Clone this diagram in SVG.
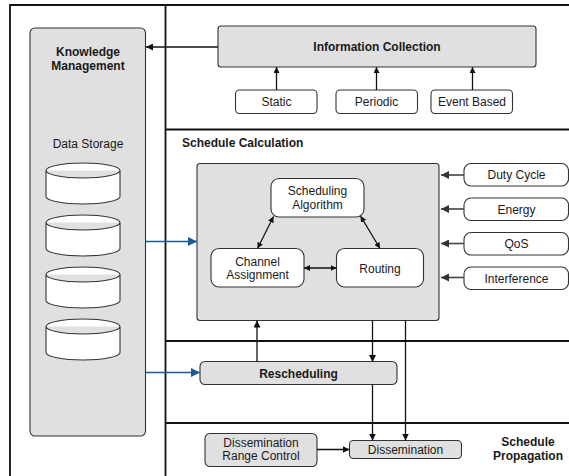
<svg xmlns="http://www.w3.org/2000/svg" width="569" height="476" viewBox="0 0 569 476">
  <style>
    text { font-family: "Liberation Sans", Arial, Helvetica, sans-serif; font-size: 12px; fill: #1a1a1a; }
    .b { font-weight: bold; }
    .m { text-anchor: middle; }
    .frame { stroke: #111; stroke-width: 1.8; fill: none; }
    .gray { fill: #e0e0e0; stroke: #333; stroke-width: 1.1; }
    .white { fill: #fff; stroke: #333; stroke-width: 1.1; }
    .line { stroke: #111; stroke-width: 1.3; fill: none; }
    .dim { stroke: #444; stroke-width: 1.6; fill: none; }
    .blue { stroke: #1d5a96; stroke-width: 1.5; fill: none; }
  </style>
  <defs>
    <marker id="ah" viewBox="0 0 10 10" refX="10" refY="5" markerWidth="7" markerHeight="7" markerUnits="userSpaceOnUse" orient="auto-start-reverse">
      <path d="M0,0 L10,5 L0,10 z" fill="#111"/>
    </marker>
    <marker id="ahs" viewBox="0 0 10 10" refX="10" refY="5" markerWidth="6" markerHeight="6" markerUnits="userSpaceOnUse" orient="auto-start-reverse">
      <path d="M0,0 L10,5 L0,10 z" fill="#111"/>
    </marker>
    <marker id="ahg" viewBox="0 0 10 10" refX="10" refY="5" markerWidth="8" markerHeight="8" markerUnits="userSpaceOnUse" orient="auto">
      <path d="M0,0 L10,5 L0,10 z" fill="#333"/>
    </marker>
    <marker id="ahb" viewBox="0 0 10 10" refX="10" refY="5" markerWidth="9" markerHeight="9" markerUnits="userSpaceOnUse" orient="auto">
      <path d="M0,0 L10,5 L0,10 z" fill="#1d5a96"/>
    </marker>
    <path id="cyl" d="M0,7.5 A37,7.5 0 0 1 74,7.5 V33.5 A37,7.5 0 0 1 0,33.5 Z M0,7.5 A37,7.5 0 0 0 74,7.5" fill="#fff" stroke="#333" stroke-width="1.1"/>
  </defs>

  <!-- section frame -->
  <g id="frame">
    <path class="frame" d="M10,476 V5 H569"/>
    <path class="frame" d="M165.5,5 V476"/>
    <path class="frame" d="M165.5,129.5 H569"/>
    <path class="frame" d="M165.5,341 H569"/>
    <path class="frame" d="M165.5,423 H569"/>
    <text x="182" y="147" class="b">Schedule Calculation</text>
    <text x="528" y="446" class="b m">Schedule</text>
    <text x="528" y="460" class="b m">Propagation</text>
  </g>

  <g id="knowledge-management">
    <rect class="gray" x="30" y="28" width="115.5" height="408" rx="5"/>
    <text x="88" y="56" class="b m">Knowledge</text>
    <text x="88" y="70" class="b m">Management</text>
    <text x="88" y="148" class="m">Data Storage</text>
  </g>
  <g id="data-storage">
    <use href="#cyl" x="46" y="163"/>
    <use href="#cyl" x="46" y="215"/>
    <use href="#cyl" x="46" y="267"/>
    <use href="#cyl" x="46" y="319"/>
  </g>

  <g id="information-collection">
    <rect class="gray" x="218" y="26" width="318" height="41" rx="3"/>
    <text x="377" y="51" class="b m">Information Collection</text>
  </g>
  <g id="static">
    <rect class="white" x="235.5" y="90" width="81.5" height="23.5" rx="4"/>
    <text x="276.5" y="106" class="m">Static</text>
  </g>
  <g id="periodic">
    <rect class="white" x="336" y="90" width="81.5" height="23.5" rx="4"/>
    <text x="376.5" y="106" class="m">Periodic</text>
  </g>
  <g id="event-based">
    <rect class="white" x="431" y="90" width="81.5" height="23.5" rx="4"/>
    <text x="472" y="106" class="m">Event Based</text>
  </g>

  <g id="schedule-calculation">
    <rect class="gray" x="197" y="163.5" width="242" height="157" rx="3"/>
  </g>
  <g id="scheduling-algorithm">
    <rect class="white" x="271" y="178.5" width="93" height="38.5" rx="8"/>
    <text x="317.5" y="195" class="m">Scheduling</text>
    <text x="317.5" y="208.5" class="m">Algorithm</text>
  </g>
  <g id="channel-assignment">
    <rect class="white" x="211" y="248.5" width="93" height="38.5" rx="8"/>
    <text x="257.5" y="265.5" class="m">Channel</text>
    <text x="257.5" y="279" class="m">Assignment</text>
  </g>
  <g id="routing">
    <rect class="white" x="336.5" y="248.5" width="87" height="38.5" rx="8"/>
    <text x="380" y="272.5" class="m">Routing</text>
  </g>

  <g id="duty-cycle">
    <rect class="white" x="464" y="163.5" width="104.5" height="22.5" rx="7"/>
    <text x="516.5" y="179" class="m">Duty Cycle</text>
  </g>
  <g id="energy">
    <rect class="white" x="464" y="198" width="104.5" height="22.5" rx="7"/>
    <text x="516.5" y="213.5" class="m">Energy</text>
  </g>
  <g id="qos">
    <rect class="white" x="464" y="232.5" width="104.5" height="22.5" rx="7"/>
    <text x="516.5" y="248" class="m">QoS</text>
  </g>
  <g id="interference">
    <rect class="white" x="464" y="267" width="104.5" height="22.5" rx="7"/>
    <text x="516.5" y="282.5" class="m">Interference</text>
  </g>

  <g id="rescheduling">
    <rect class="gray" x="200" y="361.5" width="197" height="23" rx="5"/>
    <text x="298.5" y="377.5" class="b m">Rescheduling</text>
  </g>

  <g id="dissemination-range-control">
    <rect class="gray" x="205" y="433.5" width="112" height="33" rx="5"/>
    <text x="261" y="446.5" class="m">Dissemination</text>
    <text x="261" y="460" class="m">Range Control</text>
  </g>
  <g id="dissemination">
    <rect class="gray" x="349.5" y="440.5" width="112" height="18" rx="4"/>
    <text x="405.5" y="453.5" class="m">Dissemination</text>
  </g>

  <!-- connectors, drawn on top of the boxes -->
  <g id="connectors">
    <path class="line" d="M218,47 H146" marker-end="url(#ah)"/>
    <path class="line" d="M276.5,90 V67" marker-end="url(#ahs)"/>
    <path class="line" d="M376.5,90 V67" marker-end="url(#ahs)"/>
    <path class="line" d="M472.5,90 V67" marker-end="url(#ahs)"/>
    <path class="dim" d="M464,175 H441" marker-end="url(#ahg)"/>
    <path class="dim" d="M464,209 H441" marker-end="url(#ahg)"/>
    <path class="dim" d="M464,243.5 H441" marker-end="url(#ahg)"/>
    <path class="dim" d="M464,277.5 H441" marker-end="url(#ahg)"/>
    <path class="line" d="M273.5,216.5 L257.5,248.5" marker-start="url(#ahs)" marker-end="url(#ahs)"/>
    <path class="line" d="M360.5,216 L380,248.5" marker-start="url(#ahs)" marker-end="url(#ahs)"/>
    <path class="line" d="M304,268 H336.5" marker-start="url(#ahs)" marker-end="url(#ahs)"/>
    <path class="blue" d="M146,241.5 H197" marker-end="url(#ahb)"/>
    <path class="blue" d="M146,372.5 H200" marker-end="url(#ahb)"/>
    <path class="line" d="M257,362 V320.5" marker-end="url(#ah)"/>
    <path class="line" d="M372.5,320.5 V362" marker-end="url(#ah)"/>
    <path class="line" d="M372.5,384.5 V440.5" marker-end="url(#ah)"/>
    <path class="line" d="M405.5,320.5 V440.5" marker-end="url(#ah)"/>
    <path class="line" d="M317,449.5 H349.5" marker-end="url(#ah)"/>
  </g>
</svg>
